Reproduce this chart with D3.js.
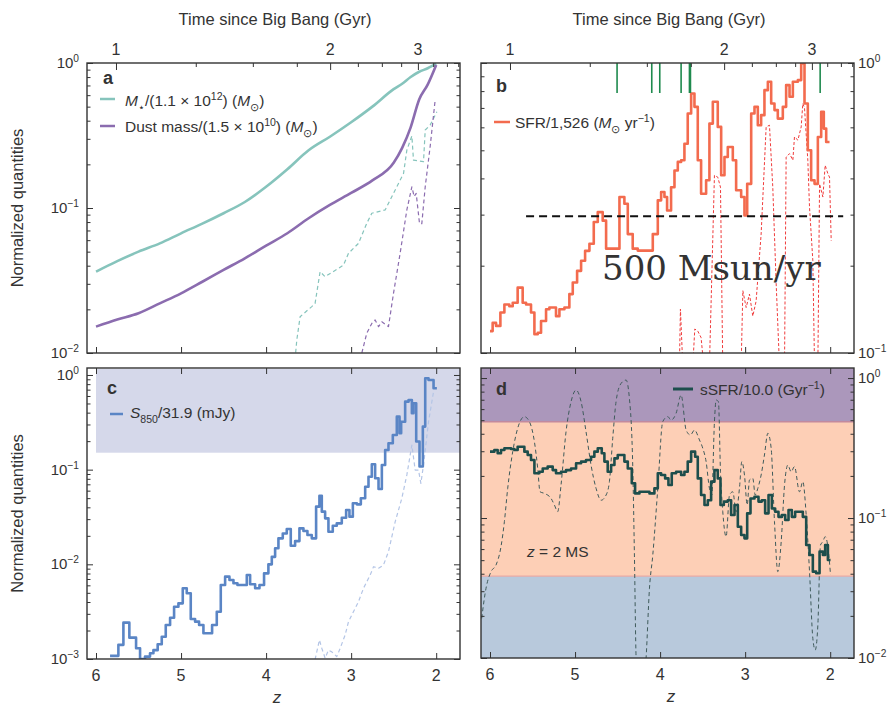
<!DOCTYPE html>
<meta charset="utf-8">
<script src="https://d3js.org/d3.v7.min.js"></script>
<style>
  body { margin: 0; background: #fff; }
  text { font-family: "Liberation Sans", Arial, sans-serif; fill: #333; }
</style>
<div id="chart"></div>
<script>

// ---- axis ticks ----
var zTicks = [6, 5, 4, 3, 2];
var ageTicks = [1, 1.25, 1.5, 1.75, 2, 2.25, 2.5, 2.75, 3, 3.25, 3.5, 3.75];
var ageTickZ = [5.765, 4.827, 4.156, 3.639, 3.247, 2.921, 2.639, 2.412, 2.215, 2.035, 1.874, 1.741];
var ageLabels = [1, 2, 3];

// ---- panel a: stellar mass and dust mass ----
var aZ = [6.0, 5.75, 5.5, 5.25, 5.0, 4.75, 4.5, 4.25, 4.0, 3.75, 3.5, 3.25, 3.0, 2.75, 2.5, 2.4, 2.3, 2.2, 2.1, 2.0];
var aStellar = [0.0364, 0.043, 0.050, 0.057, 0.0669, 0.078, 0.092, 0.11, 0.14, 0.185, 0.25, 0.31, 0.39, 0.50, 0.66, 0.72, 0.80, 0.87, 0.92, 0.99];
var aDust = [0.0152, 0.017, 0.0188, 0.022, 0.0258, 0.031, 0.0374, 0.045, 0.055, 0.067, 0.085, 0.105, 0.127, 0.155, 0.205, 0.26, 0.36, 0.56, 0.71, 0.97];
var aStellarDashZ = [3.66, 3.639, 3.6, 3.463, 3.424, 3.365, 3.306, 3.149, 3.09, 3.031, 2.914, 2.816, 2.757, 2.6, 2.482, 2.384, 2.345, 2.286, 2.267, 2.149, 2.129, 2.071, 1.992];
var aStellarDash = [0.009, 0.0123, 0.0178, 0.0209, 0.022, 0.0364, 0.0336, 0.0384, 0.0404, 0.0487, 0.057, 0.0784, 0.092, 0.097, 0.133, 0.173, 0.251, 0.314, 0.214, 0.209, 0.345, 0.373, 0.461];
var aDustDashZ = [2.894, 2.816, 2.757, 2.718, 2.678, 2.639, 2.561, 2.502, 2.424, 2.345, 2.286, 2.259, 2.235, 2.196, 2.169, 2.129, 2.071, 2.012];
var aDustDash = [0.009, 0.0137, 0.016, 0.0169, 0.0152, 0.0164, 0.0152, 0.0258, 0.0487, 0.097, 0.14, 0.12, 0.126, 0.078, 0.078, 0.14, 0.265, 0.556];

// ---- panel b: SFR ----
var bZ = [6.000,5.969,5.929,5.878,5.831,5.773,5.733,5.675,5.616,5.576,5.518,5.478,5.439,5.400,5.341,5.302,5.224,5.184,5.125,5.067,5.027,4.976,4.929,4.882,4.831,4.780,4.733,4.675,4.635,4.478,4.420,4.380,4.322,4.263,4.086,4.027,3.988,3.949,3.918,3.871,3.831,3.792,3.753,3.714,3.675,3.635,3.596,3.557,3.518,3.459,3.420,3.380,3.322,3.282,3.243,3.204,3.145,3.106,3.047,3.008,2.976,2.929,2.890,2.851,2.812,2.773,2.733,2.694,2.655,2.616,2.557,2.518,2.478,2.439,2.380,2.341,2.302,2.263,2.224,2.184,2.145,2.106,2.075,2.047,2.008];
var bSFR = [0.119,0.127,0.124,0.138,0.147,0.145,0.149,0.168,0.149,0.147,0.138,0.116,0.1175,0.129,0.1416,0.1435,0.134,0.1416,0.1435,0.1596,0.175,0.192,0.208,0.225,0.238,0.283,0.306,0.286,0.229,0.345,0.327,0.257,0.229,0.2255,0.257,0.336,0.359,0.345,0.310,0.373,0.426,0.456,0.462,0.527,0.670,0.785,0.706,0.462,0.354,0.394,0.618,0.735,0.602,0.41,0.474,0.513,0.462,0.364,0.345,0.298,0.383,0.670,0.706,0.610,0.661,0.806,0.862,0.725,0.688,0.643,0.706,0.839,0.765,0.862,0.873,0.997,0.725,0.50,0.394,0.383,0.556,0.679,0.594,0.534,0.534];
var bDashZ = [3.773,3.761,3.733,3.616,3.592,3.557,3.518,3.486,3.420,3.361,3.322,3.290,3.263,3.047,3.027,2.988,2.949,2.910,2.871,2.812,2.753,2.714,2.675,2.635,2.596,2.537,2.518,2.478,2.439,2.420,2.380,2.341,2.322,2.302,2.263,2.243,2.204,2.184,2.145,2.125,2.086,2.059,2.027,2.008,1.988];
var bDash = [0.09,0.1416,0.09,0.09,0.121,0.119,0.113,0.09,0.09,0.41,0.404,0.373,0.09,0.09,0.164,0.1435,0.1596,0.134,0.151,0.257,0.602,0.61,0.373,0.173,0.09,0.09,0.474,0.487,0.462,0.556,0.542,0.602,0.725,0.70,0.462,0.318,0.208,0.09,0.09,0.383,0.345,0.444,0.415,0.404,0.244];
var bMarkZ = [4.506, 4.098, 4.004, 3.753, 3.655, 3.643, 2.118];
var bThreshold = 0.296;
var bThresholdZ = [5.576, 1.847];

// ---- panel c: S850 ----
var cZ = [5.835,5.737,5.678,5.608,5.529,5.482,5.424,5.365,5.325,5.275,5.227,5.180,5.129,5.082,5.031,4.980,4.933,4.886,4.835,4.788,4.737,4.635,4.580,4.533,4.482,4.431,4.384,4.337,4.227,4.188,4.129,4.078,4.024,3.973,3.933,3.894,3.855,3.804,3.757,3.710,3.659,3.608,3.561,3.514,3.463,3.412,3.373,3.345,3.306,3.267,3.216,3.169,3.110,3.059,3.020,2.980,2.933,2.886,2.835,2.796,2.757,2.718,2.678,2.639,2.600,2.561,2.510,2.463,2.431,2.412,2.365,2.325,2.286,2.267,2.235,2.196,2.157,2.129,2.090,2.031,1.992];
var cS850 = [1.08e-3,1.41e-3,2.42e-3,1.68e-3,1.30e-3,1.0e-3,1.06e-3,1.15e-3,1.24e-3,1.43e-3,1.72e-3,2.29e-3,2.73e-3,3.57e-3,3.87e-3,5.58e-3,4.94e-3,2.65e-3,2.48e-3,2.29e-3,1.87e-3,2.29e-3,3.16e-3,6.05e-3,7.41e-3,6.84e-3,6.31e-3,6.05e-3,7.71e-3,6.15e-3,5.58e-3,6.05e-3,8.03e-3,1.0e-2,1.2e-2,1.48e-2,1.88e-2,2.12e-2,2.36e-2,1.57e-2,1.76e-2,2.40e-2,2.25e-2,2.04e-2,1.88e-2,4.07e-2,5.31e-2,3.60e-2,3.06e-2,2.21e-2,2.56e-2,2.71e-2,3.11e-2,3.75e-2,3.19e-2,4.41e-2,4.3e-2,4.98e-2,6.61e-2,8.43e-2,0.114,8.1e-2,6.25e-2,0.112,0.161,0.19,0.232,0.363,0.242,0.321,0.523,0.545,0.394,0.502,0.198,0.108,0.285,0.922,0.885,0.723,0.723];
var cDashZ = [3.424,3.373,3.345,3.306,3.267,3.227,3.169,3.129,3.071,3.031,2.973,2.914,2.855,2.776,2.737,2.678,2.620,2.561,2.482,2.404,2.345,2.286,2.247,2.208,2.180,2.149,2.090,2.031];
var cDash = [0.99e-3,1.59e-3,1.30e-3,1.02e-3,1.24e-3,1.19e-3,1.06e-3,1.30e-3,1.79e-3,2.48e-3,3.16e-3,4.03e-3,5.58e-3,7.71e-3,9.44e-3,9.07e-3,9.84e-3,1.36e-2,2.82e-2,4.98e-2,8.79e-2,0.182,9.91e-2,9.91e-2,7.17e-2,0.112,0.321,0.667];
var cBandLow = 0.151;

// ---- panel d: sSFR ----
var dZ = [6.000,5.949,5.910,5.871,5.831,5.753,5.714,5.675,5.596,5.557,5.518,5.478,5.420,5.380,5.322,5.263,5.224,5.165,5.106,5.047,4.988,4.929,4.871,4.812,4.773,4.733,4.686,4.655,4.616,4.576,4.537,4.498,4.420,4.380,4.333,4.294,4.243,4.125,4.067,4.027,3.988,3.941,3.902,3.863,3.812,3.753,3.714,3.675,3.635,3.588,3.557,3.518,3.478,3.439,3.400,3.361,3.322,3.290,3.251,3.204,3.165,3.125,3.086,3.047,3.008,2.976,2.937,2.890,2.843,2.804,2.765,2.725,2.686,2.647,2.608,2.569,2.529,2.490,2.451,2.412,2.322,2.282,2.243,2.204,2.165,2.125,2.086,2.059,2.027,1.996];
var dSSFR = [0.298,0.306,0.290,0.306,0.315,0.311,0.306,0.323,0.298,0.282,0.260,0.209,0.214,0.226,0.233,0.220,0.209,0.214,0.220,0.226,0.246,0.253,0.260,0.274,0.298,0.315,0.290,0.253,0.214,0.239,0.267,0.282,0.253,0.226,0.177,0.150,0.154,0.150,0.163,0.209,0.203,0.192,0.172,0.209,0.214,0.203,0.214,0.253,0.298,0.274,0.192,0.146,0.124,0.134,0.182,0.220,0.192,0.124,0.131,0.134,0.105,0.124,0.0867,0.0757,0.0716,0.108,0.138,0.142,0.131,0.134,0.108,0.146,0.117,0.111,0.102,0.105,0.0968,0.114,0.102,0.111,0.102,0.0641,0.0544,0.0414,0.0403,0.0575,0.0544,0.0641,0.0501,0.0501];
var dDashZ = [6.098,6.047,5.988,5.929,5.871,5.831,5.792,5.733,5.675,5.596,5.537,5.478,5.439,5.412,5.361,5.282,5.243,5.204,5.165,5.106,5.047,4.988,4.929,4.871,4.812,4.753,4.694,4.635,4.596,4.557,4.518,4.459,4.400,4.361,4.322,4.302,4.282,4.263,4.184,4.165,4.125,4.086,4.027,3.969,3.910,3.871,3.812,3.753,3.694,3.643,3.596,3.537,3.498,3.459,3.420,3.392,3.361,3.341,3.314,3.290,3.263,3.224,3.184,3.145,3.106,3.067,3.039,3.008,2.976,2.949,2.910,2.882,2.851,2.812,2.773,2.733,2.694,2.655,2.616,2.576,2.537,2.498,2.459,2.420,2.361,2.322,2.282,2.243,2.204,2.176,2.145,2.114,2.086,2.059,2.027,1.996];
var dDash = [0.0192,0.0315,0.0414,0.0462,0.0624,0.0942,0.163,0.298,0.437,0.530,0.488,0.351,0.226,0.154,0.150,0.138,0.124,0.111,0.172,0.414,0.678,0.821,0.678,0.414,0.239,0.163,0.134,0.146,0.182,0.371,0.678,0.916,0.968,0.716,0.239,0.0544,0.00995,0.007,0.007,0.00995,0.0315,0.0544,0.163,0.488,0.530,0.501,0.560,0.756,0.425,0.392,0.425,0.361,0.315,0.253,0.163,0.146,0.488,0.697,0.678,0.214,0.111,0.0736,0.146,0.154,0.111,0.163,0.253,0.203,0.124,0.187,0.192,0.146,0.163,0.203,0.282,0.403,0.315,0.0942,0.0414,0.0678,0.172,0.239,0.214,0.233,0.154,0.182,0.105,0.0414,0.0138,0.0114,0.0172,0.0641,0.0678,0.0736,0.0624,0.0392];
var dBandHigh = 0.487, dBandLow = 0.0385;

var svg = d3.select("#chart").append("svg")
    .attr("width", 889)
    .attr("height", 706);

var panelW = 373;
var zDomain = [6.106, 1.72];

function pairs(zs, vs) { return zs.map(function(z, i) { return [z, vs[i]]; }); }

// a panel: frame at x0,y0 with height h, log y domain
function makePanel(x0, y0, h, yDomain, id) {
  var g = svg.append("g").attr("transform", "translate(" + x0 + "," + y0 + ")");
  var x = d3.scaleLinear().domain(zDomain).range([0, panelW]);
  var y = d3.scaleLog().domain(yDomain).range([h, 0]);
  g.append("clipPath").attr("id", id).append("rect").attr("width", panelW).attr("height", h);
  var plot = g.append("g").attr("clip-path", "url(#" + id + ")");
  return { g: g, plot: plot, x: x, y: y, h: h };
}

function logTicks(dom) {
  var maj = [], min = [];
  for (var e = Math.floor(Math.log10(dom[0])); e <= Math.ceil(Math.log10(dom[1])); e++) {
    var b = Math.pow(10, e);
    if (b >= dom[0] * 0.999 && b <= dom[1] * 1.001) maj.push(b);
    for (var k = 2; k < 10; k++) { var v = k * b; if (v > dom[0] && v < dom[1]) min.push(v); }
  }
  return [maj, min];
}

function cleanAxis(s) {
  s.select(".domain").remove();
  s.selectAll(".tick line").attr("stroke", "#333");
}

// text with super/subscripts
function rich(g, x, y, parts, size, anchor) {
  var t = g.append("text").attr("x", x).attr("y", y).attr("font-size", size)
    .attr("text-anchor", anchor || "start");
  var shift = 0;
  parts.forEach(function(p) {
    var o = (typeof p === "string") ? { t: p } : p;
    var target = o.sup ? -0.4 * size : (o.sub ? 0.3 * size : 0);
    var s = t.append("tspan").attr("dy", target - shift).text(o.t);
    shift = target;
    if (o.sup || o.sub) s.attr("font-size", size * 0.68);
    if (o.it) s.attr("font-style", "italic");
  });
  return t;
}

function powLabel(g, x, y, v, anchor) {
  var e = Math.round(Math.log10(v));
  rich(g, x, y, ["10", { t: e < 0 ? "\u2212" + (-e) : "" + e, sup: true }], 15, anchor);
}

function drawAxes(p, opts) {
  var lt = logTicks(p.y.domain());
  // y ticks on both sides, pointing inward
  ["left", "right"].forEach(function(side) {
    var ax = side === "left" ? d3.axisLeft : d3.axisRight;
    var tx = side === "left" ? 0 : panelW;
    p.g.append("g").attr("transform", "translate(" + tx + ",0)")
      .call(ax(p.y).tickValues(lt[0]).tickSize(-6).tickFormat(""))
      .call(cleanAxis);
    p.g.append("g").attr("transform", "translate(" + tx + ",0)")
      .call(ax(p.y).tickValues(lt[1]).tickSize(-3.5).tickFormat(""))
      .call(cleanAxis);
  });
  lt[0].forEach(function(v) {
    if (opts.labelSide === "left") powLabel(p.g, -8, p.y(v) + 5, v, "end");
    else powLabel(p.g, panelW + 4, p.y(v) + 5, v, "start");
  });
  // bottom z ticks
  p.g.append("g").attr("transform", "translate(0," + p.h + ")")
    .call(d3.axisBottom(p.x).tickValues(zTicks).tickSize(-6).tickFormat(""))
    .call(cleanAxis);
  if (opts.zLabels) {
    zTicks.forEach(function(z) {
      p.g.append("text").attr("x", p.x(z)).attr("y", p.h + 22)
        .attr("text-anchor", "middle").attr("font-size", 16).text(z);
    });
    p.g.append("text").attr("x", 190).attr("y", p.h + 44)
      .attr("text-anchor", "middle").attr("font-size", 17).attr("font-style", "italic").text("z");
  }
  if (opts.ageTop) {
    var isMaj = function(i) { return ageLabels.indexOf(ageTicks[i]) >= 0; };
    p.g.append("g")
      .call(d3.axisTop(p.x).tickValues(ageTickZ.filter(function(z, i) { return isMaj(i); })).tickSize(-7).tickFormat(""))
      .call(cleanAxis);
    p.g.append("g")
      .call(d3.axisTop(p.x).tickValues(ageTickZ.filter(function(z, i) { return !isMaj(i); })).tickSize(-4).tickFormat(""))
      .call(cleanAxis);
    ageTicks.forEach(function(a, i) {
      if (!isMaj(i)) return;
      p.g.append("text").attr("x", p.x(ageTickZ[i])).attr("y", -8)
        .attr("text-anchor", "middle").attr("font-size", 16).text(a);
    });
    p.g.append("text").attr("x", 188).attr("y", -38)
      .attr("text-anchor", "middle").attr("font-size", 16.5).text("Time since Big Bang (Gyr)");
  } else {
    p.g.append("g")
      .call(d3.axisTop(p.x).tickValues(zTicks).tickSize(-6).tickFormat(""))
      .call(cleanAxis);
  }
  if (opts.yTitle) {
    p.g.append("text")
      .attr("transform", "translate(-64," + (p.h / 2) + ") rotate(-90)")
      .attr("text-anchor", "middle").attr("font-size", 16.5).text("Normalized quantities");
  }
}

function frame(p) {
  p.g.append("rect").attr("width", panelW).attr("height", p.h)
    .attr("fill", "none").attr("stroke", "#333").attr("stroke-width", 1.4);
}

function line(p, zs, vs, color, width, dash, curve) {
  var gen = d3.line()
    .x(function(d) { return p.x(d[0]); })
    .y(function(d) { return p.y(d[1]); })
    .curve(curve || d3.curveLinear);
  p.plot.append("path").datum(pairs(zs, vs))
    .attr("d", gen).attr("fill", "none")
    .attr("stroke", color).attr("stroke-width", width)
    .attr("stroke-dasharray", dash || null)
    .attr("stroke-linejoin", "round");
}

function legendLine(p, x1, x2, y, color, w) {
  p.g.append("line").attr("x1", x1).attr("x2", x2).attr("y1", y).attr("y2", y)
    .attr("stroke", color).attr("stroke-width", w || 2.5);
}

function letter(p, x, y, s) {
  p.g.append("text").attr("x", x).attr("y", y).attr("font-size", 18)
    .attr("font-weight", "bold").attr("fill", "#222").text(s);
}

// ---------------- panel a ----------------
var teal = "#86c4bc", purple = "#8b6caf";
var pa = makePanel(87, 63, 290, [0.01, 1], "clipA");
line(pa, aStellarDashZ, aStellarDash, teal, 1.2, "4,3");
line(pa, aDustDashZ, aDustDash, purple, 1.2, "4,3");
line(pa, aZ, aStellar, teal, 2.6, null, d3.curveMonotoneX);
line(pa, aZ, aDust, purple, 2.6, null, d3.curveMonotoneX);
drawAxes(pa, { labelSide: "left", zLabels: false, ageTop: true, yTitle: true });
frame(pa);
letter(pa, 16, 21, "a");
legendLine(pa, 13, 28, 36, teal);
rich(pa.g, 38, 43, [{ t: "M", it: true }, { t: "\u22c6", sub: true }, "/(1.1 \u00d7 10", { t: "12", sup: true }, ") (", { t: "M", it: true }, { t: "\u2299", sub: true }, ")"], 15.5);
legendLine(pa, 13, 28, 63, purple);
rich(pa.g, 38, 69, ["Dust mass/(1.5 \u00d7 10", { t: "10", sup: true }, ") (", { t: "M", it: true }, { t: "\u2299", sub: true }, ")"], 15.5);

// ---------------- panel b ----------------
var red = "#f36b4e";
var pb = makePanel(481, 63, 290, [0.1, 1], "clipB");
line(pb, bDashZ, bDash, "#f03c3c", 1, "3,2");
line(pb, bZ, bSFR, red, 2.6, null, d3.curveStepAfter);
pb.plot.selectAll(".mark").data(bMarkZ).enter().append("line")
  .attr("x1", function(z) { return pb.x(z); }).attr("x2", function(z) { return pb.x(z); })
  .attr("y1", 0).attr("y2", 30).attr("stroke", "#1f8a4e").attr("stroke-width", 1.6);
pb.g.append("line")
  .attr("x1", pb.x(bThresholdZ[0])).attr("x2", pb.x(bThresholdZ[1]))
  .attr("y1", pb.y(bThreshold)).attr("y2", pb.y(bThreshold))
  .attr("stroke", "#111").attr("stroke-width", 2).attr("stroke-dasharray", "8,5");
drawAxes(pb, { labelSide: "right", zLabels: false, ageTop: true });
frame(pb);
letter(pb, 15, 29, "b");
legendLine(pb, 13, 29, 59, red);
rich(pb.g, 34, 65, ["SFR/1,526 (", { t: "M", it: true }, { t: "\u2299", sub: true }, " yr", { t: "\u22121", sup: true }, ")"], 15.5);
pb.g.append("text").attr("x", 121).attr("y", 217)
  .style("font-family", "'DejaVu Serif', serif").attr("font-size", 34).attr("fill", "#000")
  .text("500 Msun/yr");

// ---------------- panel c ----------------
var blue = "#5a85c5";
var pc = makePanel(87, 368, 291, [1e-3, 1.185], "clipC");
pc.plot.append("rect")
  .attr("x", pc.x(6)).attr("width", panelW - pc.x(6))
  .attr("y", 1).attr("height", pc.y(cBandLow) - 1)
  .attr("fill", "#d5d8ea");
line(pc, cDashZ, cDash, "#b4c5e6", 1.2, "4,3");
line(pc, cZ, cS850, blue, 2.6, null, d3.curveStepAfter);
drawAxes(pc, { labelSide: "left", zLabels: true, ageTop: false, yTitle: true });
frame(pc);
letter(pc, 20, 26, "c");
legendLine(pc, 23, 36, 46, blue);
rich(pc.g, 43, 50, [{ t: "S", it: true }, { t: "850", sub: true }, "/31.9 (mJy)"], 15.5);

// ---------------- panel d ----------------
var dark = "#1d4e4c";
var pd = makePanel(481, 368, 290, [0.01, 1.18], "clipD");
pd.plot.append("rect").attr("width", panelW).attr("height", pd.y(dBandHigh)).attr("fill", "#ab97bb");
pd.plot.append("rect").attr("y", pd.y(dBandHigh)).attr("width", panelW)
  .attr("height", pd.y(dBandLow) - pd.y(dBandHigh)).attr("fill", "#fdcfb6");
pd.plot.append("rect").attr("y", pd.y(dBandLow)).attr("width", panelW)
  .attr("height", pd.h - pd.y(dBandLow)).attr("fill", "#b8c9dc");
pd.plot.append("line").attr("x2", panelW).attr("y1", pd.y(dBandHigh)).attr("y2", pd.y(dBandHigh))
  .attr("stroke", "#c28a9e").attr("stroke-width", 1.5);
pd.plot.append("line").attr("x2", panelW).attr("y1", pd.y(dBandLow)).attr("y2", pd.y(dBandLow))
  .attr("stroke", "#e9aaa4").attr("stroke-width", 1.2);
line(pd, dDashZ, dDash, "#3f5b5b", 1, "4,3", d3.curveMonotoneX);
line(pd, dZ, dSSFR, dark, 2.6, null, d3.curveStepAfter);
drawAxes(pd, { labelSide: "right", zLabels: true, ageTop: false });
frame(pd);
letter(pd, 15, 27, "d");
legendLine(pd, 192, 212, 21, dark, 3);
rich(pd.g, 219, 27, ["sSFR/10.0 (Gyr", { t: "\u22121", sup: true }, ")"], 15.5);
rich(pd.g, 46, 189, [{ t: "z", it: true }, " = 2 MS"], 15.5).attr("fill", "#444");

</script>
